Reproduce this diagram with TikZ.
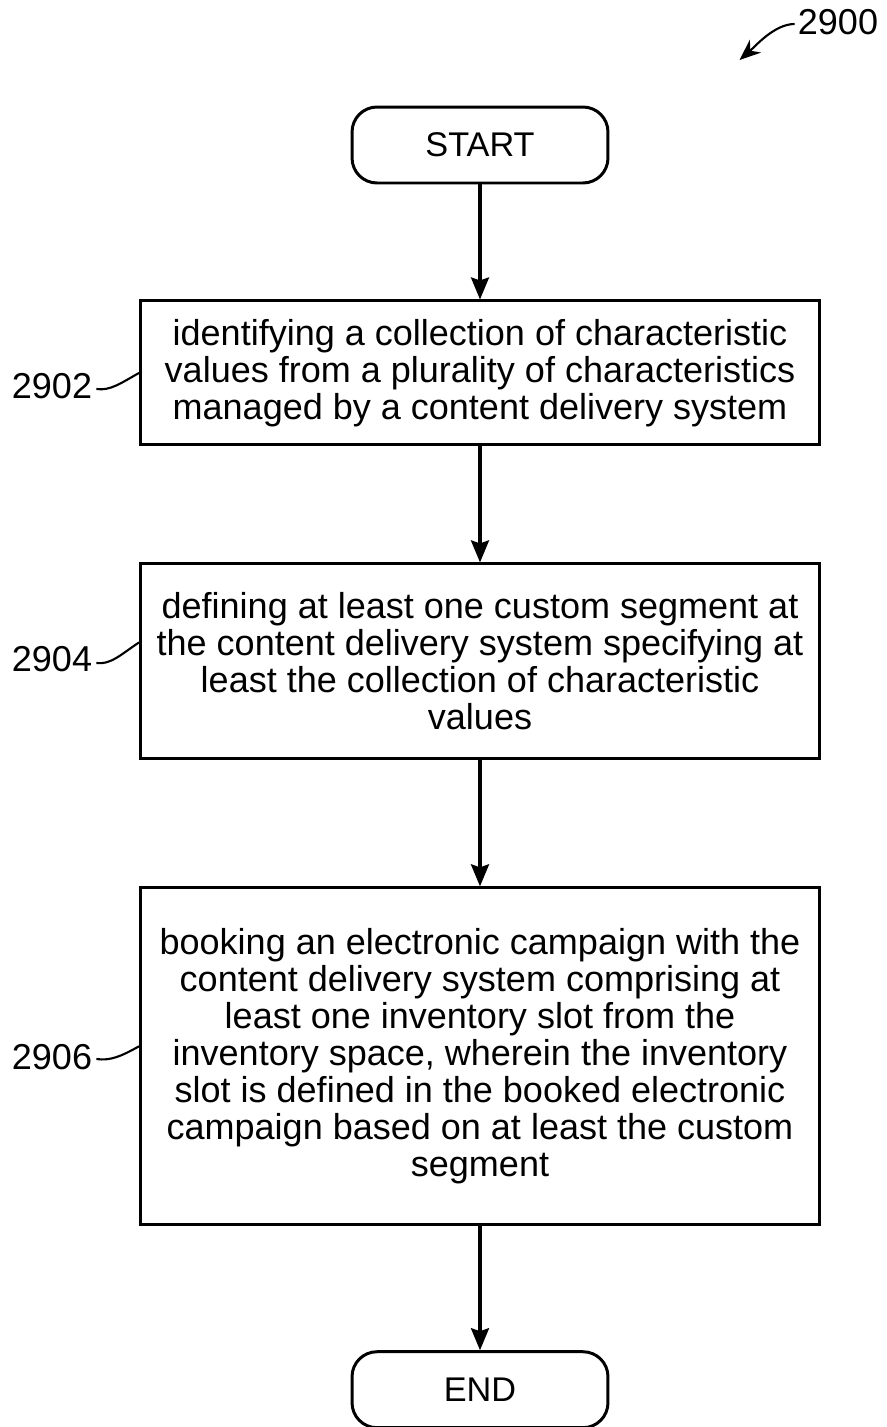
\documentclass[tikz,border=0pt]{standalone}
\usepackage{fontspec}
\setmainfont{Liberation Sans}
\usetikzlibrary{arrows.meta, positioning}

\begin{document}
\begin{tikzpicture}[
    x=0.02cm, y=-0.02cm,
    terminal/.style = {rectangle, draw, line width=1.7pt, rounded corners=0.5cm,
                       minimum width=5.12cm, minimum height=1.52cm,
                       font=\fontsize{19.5}{21}\selectfont},
    stepbox/.style  = {rectangle, draw, line width=1.7pt, align=center,
                       minimum width=13.58cm, inner sep=0pt,
                       font=\fontsize{20.5}{21}\selectfont},
    arrow/.style    = {line width=1.8pt, -{Stealth[length=0.44cm, width=0.36cm, inset=0.06cm]}},
    reflabel/.style = {font=\fontsize{20.5}{24}\selectfont, inner sep=0pt},
    squiggle/.style = {line width=1.2pt}
]
\useasboundingbox (0,0) rectangle (886,1427);

% =====================
% Nodes (top to bottom)
% =====================

% Start
\node[terminal] (start) at (480,145) {START};

% Steps
\node[stepbox, minimum height=2.88cm, below=2.3cm of start] (s2902)
    {identifying a collection of characteristic\\
     values from a plurality of characteristics\\
     managed by a content delivery system};

\node[stepbox, minimum height=3.9cm, below=2.32cm of s2902] (s2904)
    {defining at least one custom segment at\\
     the content delivery system specifying at\\
     least the collection of characteristic\\
     values};

\node[stepbox, minimum height=6.74cm, below=2.52cm of s2904] (s2906)
    {booking an electronic campaign with the\\
     content delivery system comprising at\\
     least one inventory slot from the\\
     inventory space, wherein the inventory\\
     slot is defined in the booked electronic\\
     campaign based on at least the custom\\
     segment};

% End
\node[terminal, below=2.48cm of s2906] (end) {END};

% Reference numerals
\node[reflabel] (l2900) at (838,22) {2900};
\node[reflabel] (l2902) at (52,386) {2902};
\node[reflabel] (l2904) at (52,659) {2904};
\node[reflabel] (l2906) at (52,1057) {2906};

% ====================================
% Connections (control flow)
% ====================================

\draw[arrow] (start) -- (s2902);
\draw[arrow] (s2902) -- (s2904);
\draw[arrow] (s2904) -- (s2906);
\draw[arrow] (s2906) -- (end);

% Leaders from the numerals
\draw[squiggle] (l2902.east) ++(4,3) .. controls +(14,2) and +(-18,10) .. (s2902.west);
\draw[squiggle] (l2904.east) ++(4,4) .. controls +(14,2) and +(-18,12) .. ([yshift=0.38cm]s2904.west);
\draw[squiggle] (l2906.east) ++(4,2) .. controls +(14,2) and +(-18,10) .. ([yshift=0.2cm]s2906.west);
\draw[line width=1.2pt, -{Stealth[length=0.42cm, width=0.34cm]}]
    (l2900.west) ++(-3,2) .. controls +(-20,0) and +(16,-14) .. ++(-55,36);

\end{tikzpicture}
\end{document}
